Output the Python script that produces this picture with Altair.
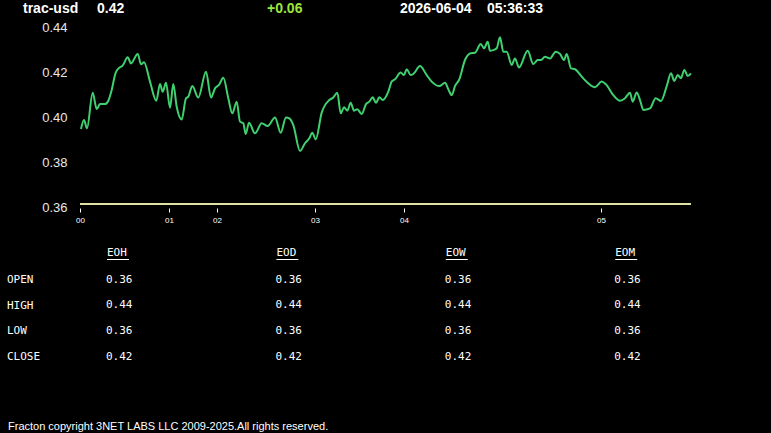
import altair as alt
import pandas as pd

# ---- data ----
symbol = "trac-usd"
price = "0.42"
change = "+0.06"
date_str = "2026-06-04"
time_str = "05:36:33"

t_vals = [1, 4, 7, 12.7, 16.7, 20, 25, 28.3, 31.7, 35.7, 40, 42.3, 47.7, 51, 57.7, 61, 64,
          70, 76.3, 80, 82.7, 86, 90, 93.3, 96.7, 101.7, 106, 108.3, 112.3, 118.3, 126, 131,
          135, 139, 143.3, 148.3, 152.3, 156.7, 160, 163.3, 165.7, 169, 175, 181.7, 187.7,
          195, 200.7, 206, 209.3, 213.3, 220, 225, 229.3, 232.3, 235.7, 241.7, 249.3, 253.3,
          257.3, 260.7, 264, 267.3, 270.7, 274, 277.3, 281.7, 286, 289.3, 292.7, 296, 299.3,
          302.7, 308.3, 311.7, 315, 320.7, 324, 326.7, 330.7, 333.3, 340, 346.7, 351.7, 359.3,
          365, 368.3, 371.7, 375, 379.3, 385, 390.7, 395, 400.7, 404, 407.7, 410, 413.3, 416.7,
          420, 423.3, 426.7, 431.7, 435, 439, 447.7, 453.3, 457.7, 461, 465, 470, 475.7, 480,
          484, 486.7, 491, 495, 501.7, 507.7, 515, 521.7, 525.7, 533.3, 540, 545, 550, 552.7,
          556.7, 560, 563.3, 570, 575.7, 581, 586.7, 591, 594.3, 597.7, 601, 604.3, 607.7, 611]
price_vals = [0.3933, 0.3973, 0.3936, 0.4095, 0.4022, 0.4044, 0.4044, 0.4059, 0.4107, 0.4184,
              0.4208, 0.4213, 0.4252, 0.4225, 0.4267, 0.4221, 0.4230, 0.4144, 0.4059, 0.4133,
              0.4099, 0.4139, 0.4028, 0.4133, 0.4032, 0.3976, 0.4070, 0.4077, 0.4124, 0.4073,
              0.4188, 0.4073, 0.4114, 0.4129, 0.4161, 0.4070, 0.4003, 0.4055, 0.3966, 0.3959,
              0.3911, 0.3961, 0.3914, 0.3959, 0.3947, 0.3985, 0.3917, 0.3985, 0.3981, 0.3951,
              0.3836, 0.3870, 0.3892, 0.3917, 0.3887, 0.4006, 0.4062, 0.4073, 0.4095, 0.4003,
              0.4030, 0.4015, 0.4050, 0.4015, 0.4021, 0.4000, 0.4044, 0.4055, 0.4074, 0.4050,
              0.4074, 0.4062, 0.4099, 0.4144, 0.4154, 0.4184, 0.4173, 0.4199, 0.4173, 0.4178,
              0.4213, 0.4173, 0.4144, 0.4124, 0.4139, 0.4110, 0.4084, 0.4124, 0.4154, 0.4240,
              0.4270, 0.4272, 0.4311, 0.4292, 0.4321, 0.4281, 0.4284, 0.4292, 0.4341, 0.4277,
              0.4277, 0.4218, 0.4247, 0.4207, 0.4281, 0.4222, 0.4240, 0.4240, 0.4255, 0.4247,
              0.4277, 0.4267, 0.4240, 0.4267, 0.4203, 0.4199, 0.4166, 0.4139, 0.4119, 0.4144,
              0.4133, 0.4084, 0.4059, 0.4070, 0.4095, 0.4055, 0.4096, 0.4062, 0.4018, 0.4025,
              0.4070, 0.4058, 0.4124, 0.4181, 0.4147, 0.4173, 0.4159, 0.4196, 0.4169, 0.4181]

tick_positions = [0, 89, 137, 235, 324, 521]
tick_labels = ["00", "01", "02", "03", "04", "05"]
y_ticks = [0.36, 0.38, 0.40, 0.42, 0.44]

table_cols = ["EOH", "EOD", "EOW", "EOM"]
table_rows = ["OPEN", "HIGH", "LOW", "CLOSE"]
eoh = [0.36, 0.44, 0.36, 0.42]
eod = [0.36, 0.44, 0.36, 0.42]
eow = [0.36, 0.44, 0.36, 0.42]
eom = [0.36, 0.44, 0.36, 0.42]

footer = "Fracton copyright 3NET LABS LLC 2009-2025.All rights reserved."

# ---- frames ----
line_df = pd.DataFrame({"t": t_vals, "p": price_vals})
base_df = pd.DataFrame({"p": [0.36]})

cells = []
for j, (c, vals) in enumerate(zip(table_cols, [eoh, eod, eow, eom])):
    for i, (r, v) in enumerate(zip(table_rows, vals)):
        cells.append({"col": c, "ci": j, "row": r, "ri": i, "v": v})
cell_df = pd.DataFrame(cells)
head_df = pd.DataFrame({"col": table_cols, "ci": list(range(len(table_cols)))})
rowlab_df = pd.DataFrame({"row": table_rows, "ri": list(range(len(table_rows)))})

W, H = 611, 180
MONO = "DejaVu Sans Mono"
SANS = "Liberation Sans"

label_expr = "{" + ",".join(f"'{p}':'{l}'" for p, l in zip(tick_positions, tick_labels)) + "}[datum.value]"

x_enc = alt.X("t:Q", scale=alt.Scale(domain=[0, W], nice=False, zero=False),
              axis=alt.Axis(values=tick_positions, labelExpr=label_expr, title=None, grid=False,
                            domain=False, ticks=True, tickColor="#ffffff", tickSize=4, tickWidth=1,
                            offset=4, labelFontSize=8, labelColor="#ffffff", labelFont=SANS,
                            labelPadding=4, labelFlush=False, labelOverlap=False))
y_enc = alt.Y("p:Q", scale=alt.Scale(domain=[0.36, 0.44], nice=False, zero=False),
              axis=alt.Axis(values=y_ticks, format=".2f", title=None, grid=False, domain=False,
                            ticks=False, labelPadding=13, labelFontSize=13, labelColor="#e8e8e8",
                            labelFont=SANS, labelOffset=3, labelFlush=False))

line = alt.Chart(line_df).mark_line(color="#3fd070", strokeWidth=2, interpolate="monotone").encode(
    x=x_enc, y=y_enc)

baseline = alt.Chart(base_df).mark_rule(color="#dce3a5", strokeWidth=2).encode(
    y=alt.Y("p:Q"))

def header_text(txt, xpos, color="#ffffff"):
    return alt.Chart(pd.DataFrame({"s": [txt]})).mark_text(
        align="left", baseline="middle", font=SANS, fontSize=14, fontWeight="bold", color=color
    ).encode(x=alt.value(xpos), y=alt.value(-15), text="s:N")

headers = [
    header_text(symbol, -57),
    header_text(price, 17),
    header_text(change, 187, "#9be639"),
    header_text(date_str, 320),
    header_text(time_str, 407),
]

col_x = "26 + 169.4 * datum.ci"

col_heads = alt.Chart(head_df).mark_text(
    align="left", baseline="middle", font=MONO, fontSize=11, color="#ffffff"
).transform_calculate(px=col_x + " + 1", py="229").encode(
    x=alt.X("px:Q", scale=None, axis=None), y=alt.Y("py:Q", scale=None, axis=None), text="col:N")

underlines = alt.Chart(head_df).mark_rule(color="#ffffff", strokeWidth=1).transform_calculate(
    px=col_x + " + 1", px2=col_x + " + 23", py="235.5").encode(
    x=alt.X("px:Q", scale=None, axis=None), x2="px2:Q", y=alt.Y("py:Q", scale=None, axis=None))

row_labels = alt.Chart(rowlab_df).mark_text(
    align="left", baseline="middle", font=MONO, fontSize=11, color="#ffffff"
).transform_calculate(px="-73", py="256 + 25.7 * datum.ri").encode(
    x=alt.X("px:Q", scale=None, axis=None), y=alt.Y("py:Q", scale=None, axis=None), text="row:N")

cell_text = alt.Chart(cell_df).mark_text(
    align="left", baseline="middle", font=MONO, fontSize=11, color="#ffffff"
).transform_calculate(px=col_x, py="255.5 + 25.7 * datum.ri").encode(
    x=alt.X("px:Q", scale=None, axis=None), y=alt.Y("py:Q", scale=None, axis=None),
    text=alt.Text("v:Q", format=".2f"))

foot = alt.Chart(pd.DataFrame({"s": [footer]})).mark_text(
    align="left", baseline="middle", font=SANS, fontSize=11, color="#ffffff"
).encode(x=alt.value(-72), y=alt.value(403), text="s:N")

chart = alt.layer(line, baseline, *headers, col_heads, underlines, row_labels, cell_text, foot).properties(
    width=W, height=H,
    autosize=alt.AutoSizeParams(type="none"),
    padding={"left": 80, "top": 24, "right": 80, "bottom": 229},
).configure(background="#000000").configure_view(stroke=None)

chart.save("out.html", embed_options={"renderer": "svg", "actions": False})
